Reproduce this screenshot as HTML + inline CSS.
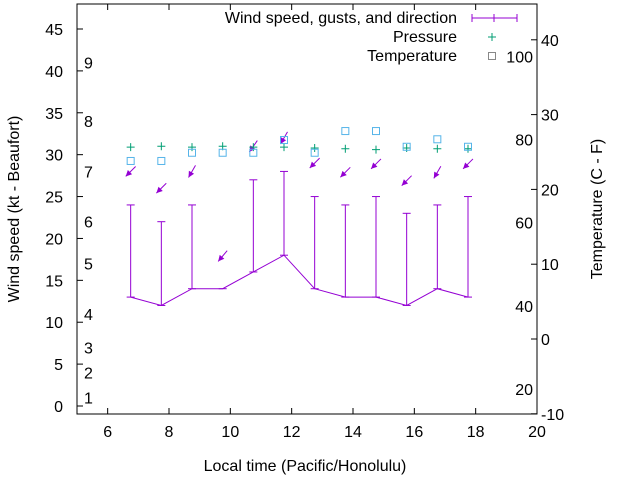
<!DOCTYPE html>
<html><head><meta charset="utf-8"><style>
body{margin:0;background:#fff}
svg{font-family:"Liberation Sans",sans-serif;font-size:16px}
</style></head><body>
<svg id="c" width="640" height="480" viewBox="0 0 640 480">
<rect x="0" y="0" width="640" height="480" fill="#fff"/>
<g id="g"></g>
</svg>
<script>
const times=[6.75,7.75,8.75,9.75,10.75,11.75,12.75,13.75,14.75,15.75,16.75,17.75];
const wind=[13,12,14,14,16,18,14,13,13,12,14,13];
const gust=[24,22,24,null,27,28,25,24,25,23,24,25];
const dirY=[28,26,28,17.9,31,32,29,27.9,28.9,26.9,27.9,28.9];
const dirDeg=[45,45,30,40,35,30,45,45,45,45,30,45];
const pressure=[30.9,31,30.9,31,30.9,30.9,30.8,30.7,30.6,30.8,30.7,30.7];
const tempC=[23.8,23.8,24.9,24.9,24.9,26.6,24.9,27.8,27.8,25.7,26.7,25.7];
const xTicks=[6,8,10,12,14,16,18,20];
const yTicks=[0,5,10,15,20,25,30,35,40,45];
const y2Ticks=[-10,0,10,20,30,40];
const beaufort=[[1,1],[2,4],[3,7],[4,11],[5,17],[6,22],[7,28],[8,34],[9,41]];
const fTicks=[20,40,60,80,100];
const L=77,R=537,T=4,B=414;
const X=v=>L+(v-5)*(R-L)/15;
const Y=v=>406-v*377/45;
const Y2=c=>339-c*7.48;
const g=document.getElementById('g');
const NS='http://www.w3.org/2000/svg';
function el(t,a,txt){const e=document.createElementNS(NS,t);for(const k in a)e.setAttribute(k,a[k]);if(txt!=null)e.textContent=txt;g.appendChild(e);return e;}
const P='#9400d3';
let e=el('rect',{x:L,y:T,width:R-L,height:B-T,fill:'none',stroke:'#000','stroke-width':1});

xTicks.forEach(v=>{el('line',{x1:X(v),x2:X(v),y1:B,y2:B-6,stroke:'#000'});el('line',{x1:X(v),x2:X(v),y1:T,y2:T+6,stroke:'#000'});
 e=el('text',{x:X(v),y:B+23,'text-anchor':'middle'},v);});
yTicks.forEach(v=>{el('line',{x1:L,x2:L+6,y1:Y(v),y2:Y(v),stroke:'#000'});
 e=el('text',{x:L-14,y:Y(v)+6,'text-anchor':'end'},v);});
y2Ticks.forEach(v=>{el('line',{x1:R,x2:R-6,y1:Y2(v),y2:Y2(v),stroke:'#000'});
 e=el('text',{x:R+4,y:Y2(v)+6,'text-anchor':'start'},v);});
beaufort.forEach(b=>{e=el('text',{x:84,y:Y(b[1])+6},b[0]);});
fTicks.forEach(f=>{e=el('text',{x:533,y:Y2((f-32)*5/9)+6,'text-anchor':'end'},f);});
e=el('text',{x:305,y:471,'text-anchor':'middle'},'Local time (Pacific/Honolulu)');
e=el('text',{x:19,y:209,'text-anchor':'middle',transform:'rotate(-90 19 209)'},'Wind speed (kt - Beaufort)');
e=el('text',{x:602,y:209,'text-anchor':'middle',transform:'rotate(-90 602 209)'},'Temperature (C - F)');
e=el('polyline',{points:times.map((t,i)=>X(t)+','+Y(wind[i])).join(' '),fill:'none',stroke:P});

times.forEach((t,i)=>{const x=X(t);el('line',{x1:x-4,x2:x+4,y1:Y(wind[i]),y2:Y(wind[i]),stroke:P});
 if(gust[i]!=null){e=el('line',{x1:x,x2:x,y1:Y(wind[i]),y2:Y(gust[i]),stroke:P});
 el('line',{x1:x-4,x2:x+4,y1:Y(gust[i]),y2:Y(gust[i]),stroke:P});}
 const a=dirDeg[i]*Math.PI/180,cx=x,cy=Y(dirY[i]),dx=Math.sin(a)*7,dy=Math.cos(a)*7;
 const hx=cx-dx,hy=cy+dy;
 e=el('line',{x1:cx+dx,y1:cy-dy,x2:hx,y2:hy,stroke:P});
 const ux=dx/7,uy=-dy/7,px=-uy,py=ux;
 el('polygon',{points:`${hx},${hy} ${hx+ux*6+px*3},${hy+uy*6+py*3} ${hx+ux*6-px*3},${hy+uy*6-py*3}`,fill:P});
 e=el('path',{d:`M${x-4},${Y(pressure[i])}h8M${x},${Y(pressure[i])-4}v8`,stroke:'#009e73'});
 e=el('rect',{x:x-3.5,y:Y2(tempC[i])-3.5,width:7,height:7,fill:'none',stroke:'#56b4e9'});
});
e=el('text',{x:457,y:23,'text-anchor':'end'},'Wind speed, gusts, and direction');
el('line',{x1:472,x2:517,y1:18,y2:18,stroke:P});el('line',{x1:472,x2:472,y1:14,y2:22,stroke:P});el('line',{x1:517,x2:517,y1:14,y2:22,stroke:P});el('line',{x1:494,x2:494,y1:14,y2:22,stroke:P});
e=el('text',{x:457,y:42,'text-anchor':'end'},'Pressure');
el('path',{d:'M488,37h8M492,33v8',stroke:'#009e73'});
e=el('text',{x:457,y:61,'text-anchor':'end'},'Temperature');
el('rect',{x:488.5,y:52.5,width:7,height:7,fill:'none',stroke:'#888'});
</script>
</body></html>
